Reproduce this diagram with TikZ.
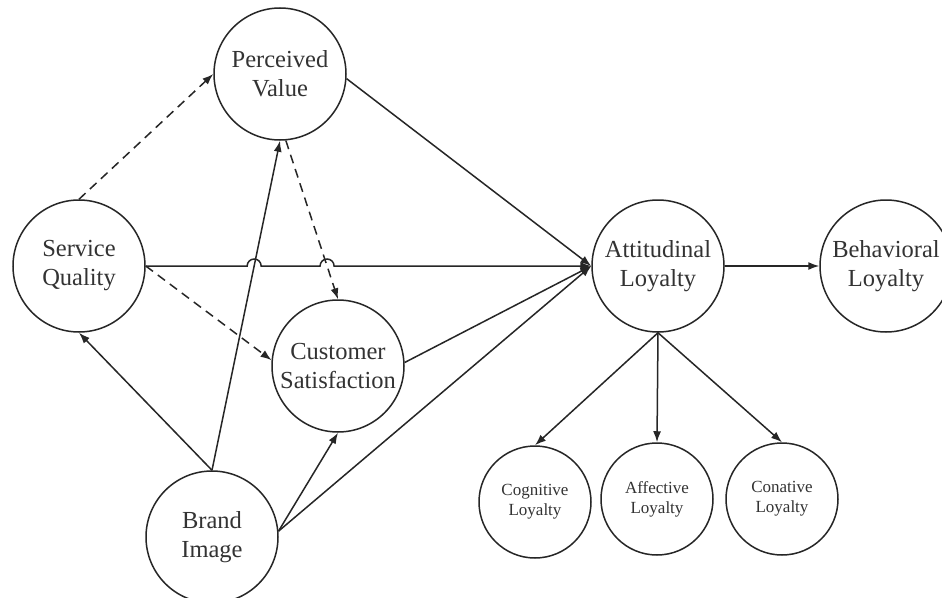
\documentclass[tikz,border=0pt]{standalone}
\usepackage{fontspec}
\setmainfont{Liberation Serif}
\usetikzlibrary{arrows.meta,calc}
\begin{document}
\begin{tikzpicture}[x=1pt,y=-1pt,
  bigc/.style={circle,draw=black!85,line width=1.5pt,minimum size=132pt,inner sep=0pt,align=center,font=\fontsize{24.5}{29}\selectfont,text=black!80},
  smallc/.style={circle,draw=black!85,line width=1.5pt,minimum size=112pt,inner sep=0pt,align=center,font=\fontsize{17}{20}\selectfont,text=black!80},
  arr/.style={draw=black!85,line width=1.5pt,-{Latex[length=11pt,width=8pt]}},
  dsh/.style={arr,dash pattern=on 9pt off 6pt}]
\useasboundingbox (0,0) rectangle (942,597);
\clip (0,0) rectangle (942,597);
\fill[white] (0,0) rectangle (942,597);

\node[bigc] (PV) at (280,74) {Perceived\\Value};
\node[bigc] (SQ) at (79,266) {Service\\Quality};
\node[bigc] (CS) at (338,366) {Customer\\Satisfaction};
\node[bigc] (BI) at (212,537) {Brand\\Image};
\node[bigc] (AL) at (658,266) {Attitudinal\\Loyalty};
\node[bigc] (BL) at (886,266) {Behavioral\\Loyalty};
\node[smallc] (CG) at (535,502) {Cognitive\\Loyalty};
\node[smallc] (AF) at (657,499) {Affective\\Loyalty};
\node[smallc] (CN) at (782,499) {Conative\\Loyalty};

\coordinate (h1) at (intersection of SQ.east--AL.west and BI.north--PV.south);
\coordinate (h2) at (intersection of SQ.east--AL.west and PV.-85--CS.north);

\draw[dsh] (SQ.north) -- (PV.west);
\draw[dsh] (PV.-85) -- (CS.north);
\draw[dsh] (SQ.east) -- (CS.175);
\draw[arr] (BI.north) -- (PV.south);
\draw[arr] (BI.north) -- (SQ.south);
\draw[arr] (BI.5) -- (CS.south);
\draw[arr] (BI.5) -- (AL.west);
\draw[arr] (CS.3) -- (AL.west);
\draw[arr] (PV.-4) -- (AL.west);
\draw[arr] (SQ.east) -- ($(h1)+(-7,0)$) arc[start angle=180,end angle=0,radius=7pt]
  -- ($(h2)+(-7,0)$) arc[start angle=180,end angle=0,radius=7pt] -- (AL.west);
\draw[arr] (AL.east) -- (BL.west);
\draw[arr] (AL.south) -- (CG.north);
\draw[arr] (AL.south) -- (AF.north);
\draw[arr] (AL.south) -- (CN.north);
\end{tikzpicture}
\end{document}
